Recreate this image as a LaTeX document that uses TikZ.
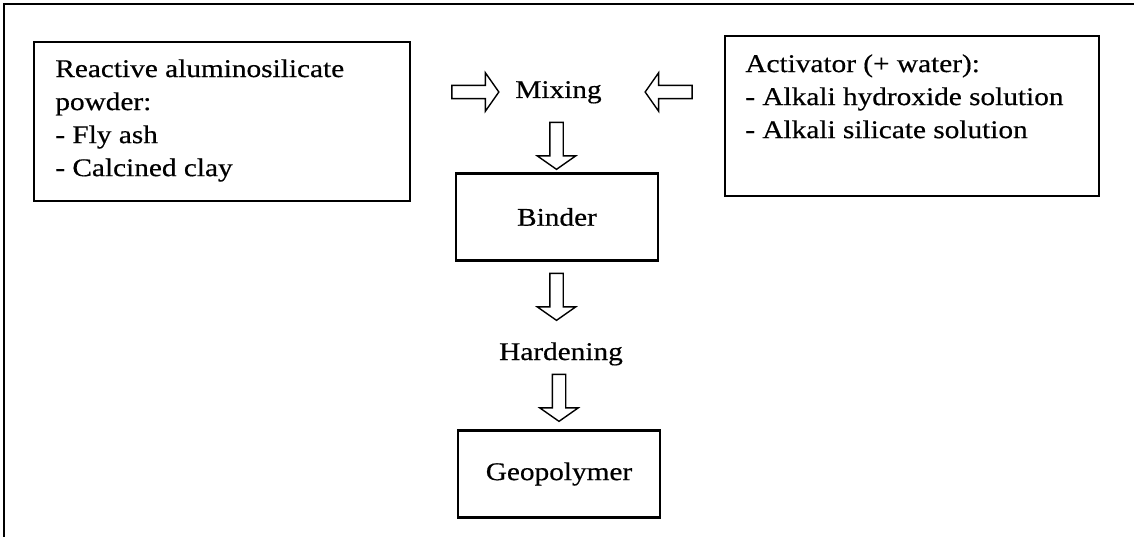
\documentclass[tikz,border=0pt]{standalone}
\usepackage{fontspec}
\setmainfont{Liberation Serif}[FakeStretch=1.15, FakeBold=0.5]
\usetikzlibrary{shapes.arrows}

\begin{document}
\begin{tikzpicture}[x=0.02cm, y=-0.02cm,
    every node/.style={font=\fontsize{14.5pt}{18.8pt}\selectfont}]
  \tikzstyle{boite}=[draw, line width=1.1pt, anchor=north west, inner sep=0pt]
  \tikzstyle{texte}=[anchor=north west, inner sep=0pt, align=left]
  \tikzstyle{etape}=[draw, line width=1.5pt, minimum width=4.04cm, minimum height=1.74cm]
  \tikzstyle{creuse}=[single arrow, draw, line width=0.8pt, inner sep=0.12cm,
    minimum height=0.94cm, single arrow head extend=0.25cm,
    single arrow tip angle=110]
  \useasboundingbox (0,0) rectangle (1134,537);
  % cadre
  \draw[line width=1.2pt] (4,537) -- (4,4) -- (1134,4);
  % les deux entrees
  \node[boite, minimum width=7.52cm, minimum height=3.18cm] (poudre) at (33,41) {};
  \node[texte] (poudretxt) at (55,59) {Reactive aluminosilicate\\powder:\\- Fly ash\\- Calcined clay};
  \node[boite, minimum width=7.48cm, minimum height=3.2cm] (activ) at (724,35) {};
  \node[texte] (activtxt) at (745,54) {Activator (+ water):\\- Alkali hydroxide solution\\- Alkali silicate solution};
  % etapes
  \node[anchor=base] (mix) at (558.5,98) {Mixing};
  \node[etape] (binder) at (557,217) {Binder};
  \node[anchor=base] (hard) at (561,360) {Hardening};
  \node[etape] (geo) at (559,474) {Geopolymer};
  % fleches creuses
  \foreach \n/\x/\y/\r in {f1/473/92/0, f2/671/92/180, f3/556.5/143.5/270,
    f4/556.5/294.5/270, f5/559/395.5/270} {
    \node[creuse, shape border rotate=\r] (\n) at (\x,\y) {};
  }
\end{tikzpicture}
\end{document}
